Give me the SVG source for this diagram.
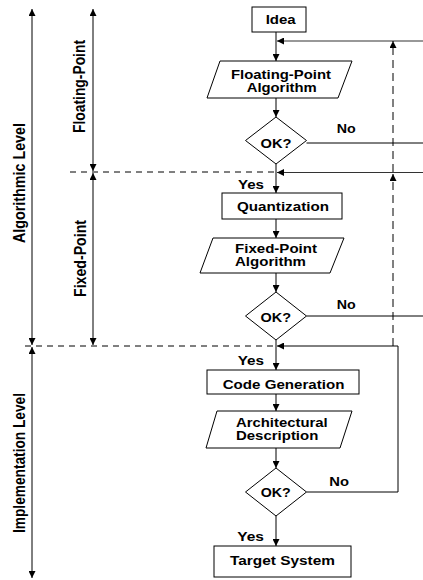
<svg xmlns="http://www.w3.org/2000/svg" width="423" height="580" viewBox="0 0 423 580">
<style>
.s{fill:#fff;stroke:#000;stroke-width:1}
.t{font-family:"Liberation Sans",Arial,sans-serif;font-weight:bold;font-size:12.5px;fill:#000}
.r{font-family:"Liberation Sans",Arial,sans-serif;font-weight:bold;font-size:16px;fill:#000}
.c{stroke:#000;stroke-width:1;fill:none}
.g{stroke:#333;stroke-width:1.2;fill:none}
.d{stroke:#000;stroke-width:1;fill:none;stroke-dasharray:6,5}
.dv{stroke:#000;stroke-width:1;fill:none;stroke-dasharray:8,5}
</style>
<defs>
<marker id="ah" viewBox="0 0 10 10" refX="10" refY="5" markerWidth="9" markerHeight="7" orient="auto-start-reverse" markerUnits="userSpaceOnUse">
<path d="M0,0 L10,5 L0,10 z" fill="#000"/>
</marker>
<marker id="ax" viewBox="0 0 10 10" refX="10" refY="5" markerWidth="11" markerHeight="7" orient="auto-start-reverse" markerUnits="userSpaceOnUse">
<path d="M0,0 L10,5 L0,10 z" fill="#000"/>
</marker>
</defs>

<g id="connectors">
<line class="c" x1="276" y1="32" x2="276" y2="61" marker-end="url(#ah)"/>
<line class="c" x1="276" y1="98" x2="276" y2="117" marker-end="url(#ah)"/>
<line class="c" x1="276" y1="164" x2="276" y2="193" marker-end="url(#ah)"/>
<line class="c" x1="276" y1="219" x2="276" y2="238" marker-end="url(#ah)"/>
<line class="c" x1="276" y1="273" x2="276" y2="292" marker-end="url(#ah)"/>
<line class="c" x1="276" y1="340" x2="276" y2="370" marker-end="url(#ah)"/>
<line class="c" x1="276" y1="394" x2="276" y2="411" marker-end="url(#ah)"/>
<line class="c" x1="276" y1="448" x2="276" y2="468" marker-end="url(#ah)"/>
<line class="c" x1="276" y1="516" x2="276" y2="546" marker-end="url(#ah)"/>
<line class="g" x1="423" y1="41" x2="277" y2="41" marker-end="url(#ax)"/>
<line class="g" x1="423" y1="172.5" x2="277" y2="172.5" marker-end="url(#ax)"/>
<polyline class="c" points="398,346 398,492 306.5,492"/>
<line class="c" x1="398" y1="346" x2="277" y2="346" marker-end="url(#ax)"/>
<line class="c" x1="306.5" y1="143" x2="423" y2="143"/>
<line class="c" x1="306.5" y1="316" x2="423" y2="316"/>
<line class="dv" x1="393" y1="346" x2="393" y2="174" marker-end="url(#ax)"/>
<line class="dv" x1="393" y1="172" x2="393" y2="41" marker-end="url(#ax)"/>
<line class="d" x1="70" y1="172" x2="276" y2="172"/>
<line class="d" x1="25" y1="346" x2="276" y2="346"/>
<line class="c" x1="32" y1="9" x2="32" y2="345" marker-start="url(#ax)" marker-end="url(#ax)"/>
<line class="c" x1="32" y1="347" x2="32" y2="578" marker-start="url(#ax)" marker-end="url(#ax)"/>
<line class="c" x1="93" y1="9" x2="93" y2="171" marker-start="url(#ax)" marker-end="url(#ax)"/>
<line class="c" x1="93" y1="173" x2="93" y2="345" marker-start="url(#ax)" marker-end="url(#ax)"/>
</g>

<g id="axis-labels">
<text class="r" transform="translate(25,243) rotate(-90)" textLength="120" lengthAdjust="spacingAndGlyphs">Algorithmic Level</text>
<text class="r" transform="translate(84.5,133) rotate(-90)" textLength="93" lengthAdjust="spacingAndGlyphs">Floating-Point</text>
<text class="r" transform="translate(86,297) rotate(-90)" textLength="77" lengthAdjust="spacingAndGlyphs">Fixed-Point</text>
<text class="r" transform="translate(24.5,533) rotate(-90)" textLength="140" lengthAdjust="spacingAndGlyphs">Implementation Level</text>
</g>

<g id="idea">
<rect class="s" x="252" y="7" width="54" height="25"/>
<text class="t" x="265.7" y="24" textLength="30" lengthAdjust="spacingAndGlyphs">Idea</text>
</g>

<g id="fp-algorithm">
<polygon class="s" points="220,61 352,61 338,98 207,98"/>
<text class="t" x="231" y="79" textLength="100" lengthAdjust="spacingAndGlyphs">Floating-Point</text>
<text class="t" x="246.7" y="92.3" textLength="70" lengthAdjust="spacingAndGlyphs">Algorithm</text>
</g>

<g id="ok1">
<polygon class="s" points="276,117 306.5,140.5 276,164 245.5,140.5"/>
<text class="t" x="260.5" y="148" textLength="31" lengthAdjust="spacingAndGlyphs">OK?</text>
</g>

<g id="labels-ok1">
<text class="t" x="336.7" y="133" textLength="19" lengthAdjust="spacingAndGlyphs">No</text>
<text class="t" x="238" y="189" textLength="26" lengthAdjust="spacingAndGlyphs">Yes</text>
</g>

<g id="quantization">
<rect class="s" x="222" y="193" width="120" height="26"/>
<text class="t" x="237" y="211" textLength="92" lengthAdjust="spacingAndGlyphs">Quantization</text>
</g>

<g id="fxp-algorithm">
<polygon class="s" points="213,238 344,238 330,273 200,273"/>
<text class="t" x="235" y="252.7" textLength="82" lengthAdjust="spacingAndGlyphs">Fixed-Point</text>
<text class="t" x="235" y="266" textLength="71" lengthAdjust="spacingAndGlyphs">Algorithm</text>
</g>

<g id="ok2">
<polygon class="s" points="276,292 306.5,316 276,340 245.5,316"/>
<text class="t" x="260.5" y="321.5" textLength="30.5" lengthAdjust="spacingAndGlyphs">OK?</text>
</g>

<g id="labels-ok2">
<text class="t" x="336.7" y="309" textLength="19" lengthAdjust="spacingAndGlyphs">No</text>
<text class="t" x="237.7" y="365" textLength="26.3" lengthAdjust="spacingAndGlyphs">Yes</text>
</g>

<g id="code-generation">
<rect class="s" x="207" y="370" width="152" height="24"/>
<text class="t" x="222.7" y="388.5" textLength="121.7" lengthAdjust="spacingAndGlyphs">Code Generation</text>
</g>

<g id="arch-description">
<polygon class="s" points="217,411 352,411 340,448 206,448"/>
<text class="t" x="236" y="426.7" textLength="91.7" lengthAdjust="spacingAndGlyphs">Architectural</text>
<text class="t" x="236" y="440" textLength="82.3" lengthAdjust="spacingAndGlyphs">Description</text>
</g>

<g id="ok3">
<polygon class="s" points="276,468 306.5,492 276,516 245.5,492"/>
<text class="t" x="260.7" y="496.5" textLength="30" lengthAdjust="spacingAndGlyphs">OK?</text>
</g>

<g id="labels-ok3">
<text class="t" x="329.3" y="486" textLength="19.7" lengthAdjust="spacingAndGlyphs">No</text>
<text class="t" x="237.3" y="540.5" textLength="26.7" lengthAdjust="spacingAndGlyphs">Yes</text>
</g>

<g id="target-system">
<rect class="s" x="214" y="546" width="137" height="31"/>
<text class="t" x="230" y="565" textLength="105" lengthAdjust="spacingAndGlyphs">Target System</text>
</g>
</svg>
